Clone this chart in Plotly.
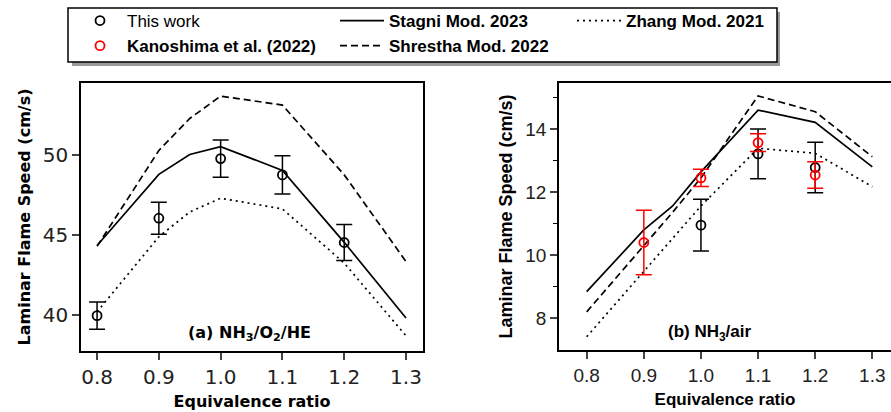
import plotly.graph_objects as go

W, H = 891, 412

# ---------------- data ----------------
# (a) NH3/O2/HE
phi_exp_a = [0.8, 0.9, 1.0, 1.1, 1.2]
sl_exp_a = [39.96, 46.06, 49.79, 48.77, 44.54]
err_exp_a = [0.85, 1.0, 1.17, 1.2, 1.12]

phi_mod_a = [0.8, 0.9, 0.95, 1.0, 1.1, 1.2, 1.3]
stagni_a = [44.35, 48.8, 50.05, 50.54, 49.05, 44.55, 39.81]
shrestha_a = [44.3, 50.3, 52.3, 53.7, 53.14, 48.77, 43.35]
zhang_a = [40.2, 44.9, 46.45, 47.31, 46.64, 43.25, 38.7]

# (b) NH3/air
phi_exp_b = [1.0, 1.1, 1.2]
sl_exp_b = [10.95, 13.21, 12.78]
err_exp_b = [0.82, 0.79, 0.8]

phi_kan = [0.9, 1.0, 1.1, 1.2]
sl_kan = [10.40, 12.45, 13.57, 12.54]
err_kan = [1.02, 0.27, 0.28, 0.42]

phi_mod_b = [0.8, 0.9, 0.95, 1.0, 1.1, 1.2, 1.3]
stagni_b = [8.84, 10.8, 11.55, 12.64, 14.6, 14.21, 12.8]
shrestha_b = [8.2, 10.3, 11.35, 12.45, 15.05, 14.55, 13.12]
zhang_b = [7.41, 9.47, 10.5, 11.56, 13.39, 13.23, 12.17]

x_ticks = [0.8, 0.9, 1.0, 1.1, 1.2, 1.3]
x_ticklabels = ["0.8", "0.9", "1.0", "1.1", "1.2", "1.3"]

# ---------------- helpers ----------------
def px_x(p):
    return p / W

def px_y(p):
    return 1 - p / H

DASH = "7px,4px"
DOT = "2px,4px"
LW = 1.7

fig = go.Figure()

def model_lines(xs, st, sh, zh, xa, ya, show):
    fig.add_trace(go.Scatter(x=xs, y=st, mode="lines", name="<b>Stagni Mod. 2023</b>",
                             line=dict(color="black", width=LW), xaxis=xa, yaxis=ya,
                             showlegend=show, legend="legend2", legendrank=1))
    fig.add_trace(go.Scatter(x=xs, y=sh, mode="lines", name="<b>Shrestha Mod. 2022</b>",
                             line=dict(color="black", width=LW, dash=DASH), xaxis=xa, yaxis=ya,
                             showlegend=show, legend="legend2", legendrank=2))
    fig.add_trace(go.Scatter(x=xs, y=zh, mode="lines", name="<b>Zhang Mod. 2021</b>",
                             line=dict(color="black", width=LW, dash=DOT), xaxis=xa, yaxis=ya,
                             showlegend=show, legend="legend3"))

def points(xs, ys, es, color, name, xa, ya, show):
    fig.add_trace(go.Scatter(x=xs, y=ys, mode="markers", name=name,
                             marker=dict(symbol="circle-open", size=9, color=color,
                                         line=dict(width=1.8, color=color)),
                             error_y=dict(type="data", array=es, visible=True, color=color,
                                          thickness=1.5, width=8),
                             xaxis=xa, yaxis=ya, showlegend=show, legend="legend"))

model_lines(phi_mod_a, stagni_a, shrestha_a, zhang_a, "x", "y", True)
points(phi_exp_a, sl_exp_a, err_exp_a, "black", "This work", "x", "y", True)

model_lines(phi_mod_b, stagni_b, shrestha_b, zhang_b, "x2", "y2", False)
points(phi_exp_b, sl_exp_b, err_exp_b, "black", "This work", "x2", "y2", False)
points(phi_kan, sl_kan, err_kan, "red", "<b>Kanoshima et al. (2022)</b>", "x2", "y2", True)

# ---------------- axes ----------------
dv = "DejaVu Sans"
lib = "Liberation Sans"

fig.update_layout(
    width=W, height=H, margin=dict(l=0, r=0, t=0, b=0),
    plot_bgcolor="white", paper_bgcolor="white", showlegend=True,
    xaxis=dict(domain=[px_x(81), px_x(423)], range=[0.774, 1.3275],
               tickvals=x_ticks, ticktext=x_ticklabels, ticks="outside", ticklen=7, tickwidth=1.5,
               showline=True, linecolor="black", linewidth=1.5, mirror=True, showgrid=False,
               zeroline=False, tickfont=dict(family=dv, size=20, color="#222"),
               title=dict(text="<b>Equivalence ratio</b>", font=dict(family=dv, size=16, color="black"),
                          standoff=8),
               anchor="y"),
    yaxis=dict(domain=[px_y(351), px_y(83)], range=[37.75, 54.52],
               tickvals=[40, 45, 50], ticks="outside", ticklen=7, tickwidth=1.5,
               showline=True, linecolor="black", linewidth=1.5, mirror=True, showgrid=False,
               zeroline=False, tickfont=dict(family=dv, size=20, color="#222"),
               title=dict(text="<b>Laminar Flame Speed (cm/s)</b>", font=dict(family=dv, size=16, color="black"),
                          standoff=8),
               anchor="x"),
    xaxis2=dict(domain=[px_x(559), 1.0], range=[0.7515, 1.3327],
                tickvals=x_ticks, ticktext=x_ticklabels, ticks="outside", ticklen=7, tickwidth=1.5,
                showline=True, linecolor="black", linewidth=1.8, mirror=True, showgrid=False,
                zeroline=False, tickfont=dict(family=lib, size=19, color="#222"),
                title=dict(text="<b>Equivalence ratio</b>", font=dict(family=lib, size=17, color="black"),
                           standoff=8),
                anchor="y2"),
    yaxis2=dict(domain=[px_y(350), px_y(83)], range=[6.99, 15.46],
                tickvals=[8, 10, 12, 14], ticks="outside", ticklen=7, tickwidth=1.5,
                minor=dict(tickvals=[9, 11, 13, 15], ticks="outside", ticklen=4, tickwidth=1.2,
                           tickcolor="black"),
                showline=True, linecolor="black", linewidth=1.8, mirror=False, showgrid=False,
                zeroline=False, tickfont=dict(family=lib, size=19, color="#222"),
                title=dict(text="<b>Laminar Flame Speed (cm/s)</b>", font=dict(family=lib, size=18, color="black"),
                           standoff=8),
                anchor="x2"),
)

# ---------------- legends ----------------
leg_common = dict(orientation="v", bgcolor="rgba(0,0,0,0)", borderwidth=0,
                  font=dict(family=lib, size=17, color="black"), yanchor="top",
                  xanchor="left", tracegroupgap=0, itemwidth=44)
fig.update_layout(
    legend=dict(x=px_x(73), y=px_y(3), **leg_common),
    legend2=dict(x=px_x(335), y=px_y(3), **leg_common),
    legend3=dict(x=px_x(572), y=px_y(3), **leg_common),
)

# legend frame with shadow
fig.add_shape(type="rect", xref="paper", yref="paper",
              x0=px_x(72), x1=px_x(780), y0=px_y(66), y1=px_y(12),
              line=dict(width=0), fillcolor="#9a9a9a", layer="below")
fig.add_shape(type="rect", xref="paper", yref="paper",
              x0=px_x(68), x1=px_x(777), y0=px_y(62), y1=px_y(8),
              line=dict(width=1.5, color="black"), fillcolor="white", layer="below")

# ---------------- panel labels ----------------
fig.add_annotation(text="<b>(a) NH<sub>3</sub>/O<sub>2</sub>/HE</b>", xref="paper", yref="paper",
                   x=px_x(249), y=px_y(333), showarrow=False, xanchor="center", yanchor="middle",
                   font=dict(family=dv, size=16, color="black"))
fig.add_annotation(text="<b>(b) NH<sub>3</sub>/air</b>", xref="paper", yref="paper",
                   x=px_x(710), y=px_y(333), showarrow=False, xanchor="center", yanchor="middle",
                   font=dict(family=lib, size=17, color="black"))

fig.write_html("out.html")
